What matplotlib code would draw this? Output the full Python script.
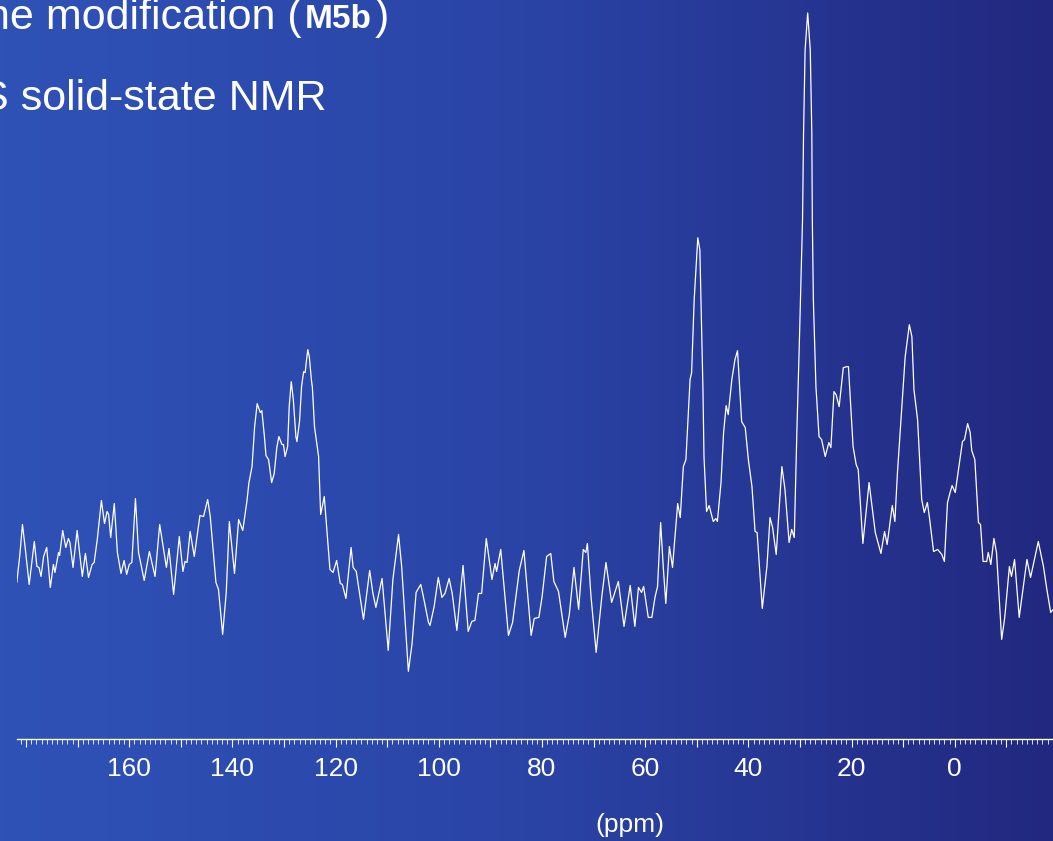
import numpy as np
import matplotlib.pyplot as plt
from matplotlib.colors import LinearSegmentedColormap

# 13C CP/MAS spectrum (arbitrary intensity units)
ppm = [182.1, 181.8, 181.2, 180.7, 180.2, 179.4, 178.4, 177.9, 177.5, 177.1,
       176.6, 176.0, 175.3, 174.7, 174.4, 173.7, 173.5, 172.9, 172.3, 171.8,
       171.5, 170.9, 170.1, 169.7, 169.1, 168.5, 167.9, 167.2, 166.8, 166.2,
       165.4, 164.8, 164.3, 164.0, 163.6, 162.9, 162.3, 161.6, 161.0, 160.5,
       160.0, 159.5, 158.8, 158.2, 157.1, 156.1, 155.0, 154.1, 152.8, 152.3,
       151.4, 150.3, 149.6, 149.2, 148.8, 148.2, 147.4, 146.3, 145.6, 144.8,
       144.3, 143.2, 142.7, 141.9, 141.2, 140.6, 139.6, 138.8, 138.0, 137.2,
       136.8, 136.2, 135.7, 135.2, 134.6, 134.3, 133.8, 133.5, 133.0, 132.4,
       131.9, 131.4, 131.0, 130.4, 130.1, 129.8, 129.3, 129.0, 128.6, 128.2,
       127.7, 127.5, 127.0, 126.6, 126.2, 125.9, 125.7, 125.4, 125.1, 124.7,
       124.5, 124.1, 123.3, 122.9, 122.2, 121.1, 120.5, 119.8, 119.1, 118.7,
       118.0, 117.0, 116.6, 116.0, 114.6, 113.4, 112.8, 112.2, 111.0, 109.8,
       108.9, 107.8, 107.2, 105.9, 105.2, 104.4, 103.5, 103.0, 102.0, 101.7,
       100.9, 100.1, 99.4, 98.8, 98.0, 97.4, 96.5, 95.3, 94.3, 93.6,
       93.0, 92.3, 91.7, 90.8, 89.7, 89.1, 88.8, 88.0, 86.5, 85.7,
       84.4, 83.5, 82.1, 81.5, 80.6, 80.0, 79.1, 78.3, 77.7, 76.8,
       75.5, 74.7, 73.8, 72.9, 72.0, 71.5, 71.2, 70.5, 69.5, 68.4,
       67.6, 66.5, 65.2, 64.1, 62.9, 62.0, 61.3, 60.7, 60.3, 59.4,
       58.7, 58.1, 57.6, 57.0, 56.5, 56.0, 55.3, 54.7, 53.7, 53.2,
       52.6, 52.1, 51.3, 51.0, 50.5, 49.8, 49.4, 48.8, 48.6, 48.1,
       47.6, 46.8, 46.3, 46.0, 45.3, 44.8, 44.3, 43.9, 43.2, 42.6,
       42.1, 41.8, 41.3, 40.6, 40.0, 39.3, 38.7, 38.3, 37.3, 36.4,
       35.8, 35.3, 34.6, 33.5, 32.9, 32.1, 31.6, 31.1, 30.6, 30.1,
       29.5, 29.3, 29.0, 28.5, 28.0, 27.7, 27.6, 27.4, 26.9, 26.3,
       25.8, 25.1, 24.4, 24.0, 23.4, 23.0, 22.4, 21.6, 20.9, 20.6,
       19.7, 19.1, 18.7, 17.8, 16.6, 15.4, 14.3, 13.6, 13.1, 12.1,
       11.6, 11.1, 10.5, 9.6, 8.8, 8.3, 7.9, 7.2, 6.4, 5.9,
       5.3, 4.9, 4.1, 3.3, 2.5, 2.0, 1.4, 0.9, 0.5, -0.1,
       -1.0, -1.5, -1.9, -2.5, -3.0, -3.3, -3.9, -4.6, -5.0, -5.5,
       -6.2, -6.5, -7.0, -7.6, -8.1, -9.1, -9.7, -10.6, -11.0, -11.6,
       -12.5, -14.0, -14.7, -16.2, -17.2, -17.8, -18.6, -19.1]

intensity = [167, 157, 185, 215, 193, 155, 198, 173, 172, 163,
             183, 192, 152, 175, 167, 187, 184, 209, 192, 201,
             197, 172, 209, 190, 163, 186, 162, 175, 177, 200,
             239, 216, 228, 225, 202, 236, 187, 166, 179, 165,
             175, 177, 241, 187, 159, 188, 163, 215, 172, 191,
             145, 203, 168, 178, 177, 208, 183, 224, 223, 240,
             223, 157, 150, 105, 147, 218, 166, 220, 209, 238,
             257, 273, 313, 336, 327, 329, 303, 284, 280, 257,
             266, 292, 303, 295, 295, 283, 293, 333, 358, 340,
             303, 298, 318, 353, 368, 367, 377, 390, 383, 360,
             352, 313, 283, 225, 243, 170, 167, 179, 156, 155,
             141, 192, 172, 168, 120, 169, 147, 132, 161, 89,
             160, 205, 173, 68, 95, 147, 155, 143, 117, 114,
             133, 162, 142, 146, 161, 146, 109, 174, 108, 118,
             119, 146, 146, 201, 160, 176, 168, 190, 104, 117,
             169, 189, 104, 121, 122, 142, 183, 186, 158, 148,
             102, 125, 172, 130, 190, 187, 196, 143, 87, 143,
             177, 137, 158, 113, 154, 113, 152, 147, 153, 122,
             122, 142, 153, 217, 173, 136, 193, 172, 236, 222,
             273, 280, 360, 367, 440, 502, 490, 350, 283, 228,
             234, 218, 221, 218, 257, 307, 334, 325, 360, 380,
             389, 363, 318, 312, 280, 253, 208, 207, 131, 173,
             222, 212, 185, 273, 250, 197, 210, 202, 307, 400,
             520, 607, 690, 727, 690, 607, 520, 440, 353, 303,
             300, 283, 297, 292, 348, 345, 333, 372, 373, 373,
             293, 275, 270, 196, 257, 207, 186, 208, 195, 234,
             218, 267, 313, 383, 415, 403, 350, 320, 240, 227,
             237, 222, 188, 190, 185, 178, 237, 247, 254, 247,
             280, 298, 300, 316, 307, 289, 280, 217, 215, 178,
             178, 187, 175, 201, 187, 100, 122, 173, 163, 180,
             122, 180, 162, 198, 173, 152, 127, 130]

tick_values = [180, 170, 160, 150, 140, 130, 120, 110, 100, 90,
               80, 70, 60, 50, 40, 30, 20, 10, 0, -10]
tick_labels = ["", "", "160", "", "140", "", "120", "", "100", "",
               "80", "", "60", "", "40", "", "20", "", "0", ""]

W, H = 1053, 841
fig = plt.figure(figsize=(W / 100, H / 100), dpi=100)

# horizontal blue gradient background
bg = fig.add_axes([0, 0, 1, 1], zorder=0)
cmap = LinearSegmentedColormap.from_list("slide", ["#2f52b7", "#2a44a6", "#22287f"])
bg.imshow(np.linspace(0, 1, 256)[None, :], aspect="auto", cmap=cmap,
          extent=[0, 1, 0, 1])
bg.axis("off")

ax = fig.add_axes([17.3 / W, (H - 739.3) / H, 1 - 17.3 / W, 739.3 / H], zorder=1)
ax.patch.set_alpha(0)
ax.plot(ppm, intensity, color="white", lw=0.9)
ax.set_xlim(181.7, -19.05)
ax.set_ylim(0, 740)

for s in ["top", "left", "right"]:
    ax.spines[s].set_visible(False)
ax.spines["bottom"].set_color("white")
ax.spines["bottom"].set_linewidth(1.0)
ax.set_yticks([])
ax.set_xticks(tick_values)
ax.set_xticklabels(tick_labels)
ax.set_xticks(np.arange(-19, 182, 1), minor=True)
ax.tick_params(axis="x", which="major", colors="white", length=6, width=0.8,
               labelsize=19, pad=7)
ax.tick_params(axis="x", which="minor", colors="white", length=3.5, width=0.6)
for lab in ax.get_xticklabels():
    lab.set_fontfamily("Liberation Sans")

fig.text(630 / W, 1 - 825 / H, "(ppm)", color="white", fontsize=19,
         family="Liberation Sans", ha="center", va="center")

# slide title, cut off at the left edge as in the original
fig.text(302 / W, 1 - 28.5 / H, "the modification (", color="white", fontsize=31,
         family="Liberation Sans", ha="right", va="baseline")
fig.text(305 / W, 1 - 28.5 / H, "M5b", color="white", fontsize=24,
         family="Liberation Sans", weight="bold", ha="left", va="baseline")
fig.text(375 / W, 1 - 28.5 / H, ")", color="white", fontsize=31,
         family="Liberation Sans", ha="left", va="baseline")
fig.text(326 / W, 1 - 110 / H, "CP/MAS solid-state NMR", color="white", fontsize=31,
         family="Liberation Sans", ha="right", va="baseline")

fig.savefig("out.png", dpi=100)
